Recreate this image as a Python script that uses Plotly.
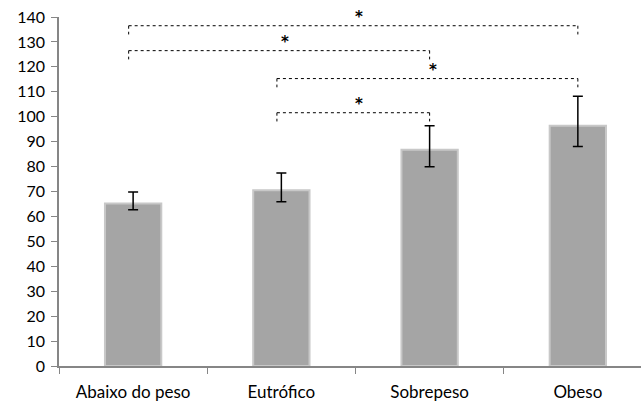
import plotly.graph_objects as go

categories = ["Abaixo do peso", "Eutrófico", "Sobrepeso", "Obeso"]
values = [65.2, 70.5, 86.7, 96.4]
err_plus = [4.6, 6.9, 9.7, 11.8]
err_minus = [2.5, 4.6, 6.8, 8.3]

# significance brackets: (left category index, right category index, height)
bracket_left = [0, 0, 1, 1]
bracket_right = [3, 2, 3, 2]
bracket_height = [136.5, 126.5, 115.3, 101.6]
bracket_label = ["*", "*", "*", "*"]

y_ticks = list(range(0, 141, 10))

FONT = "Lato"
Y_MAX = 140

fig = go.Figure()
fig.add_trace(go.Bar(
    x=list(range(len(categories))),
    y=values,
    width=0.38,
    marker=dict(color="#A5A5A5", line=dict(color="#C8C8C8", width=2)),
    error_y=dict(type="data", symmetric=False, array=err_plus, arrayminus=err_minus,
                 color="#000000", thickness=1.5, width=5),
    showlegend=False,
))

shapes = []
annotations = []
drop = 3.5
for l, r, h, lab in zip(bracket_left, bracket_right, bracket_height, bracket_label):
    xl = l - 0.03
    xr = r
    line = dict(color="#000000", width=1, dash="dot")
    shapes.append(dict(type="line", xref="x", yref="y", x0=xl, x1=xr, y0=h, y1=h, line=line))
    shapes.append(dict(type="line", xref="x", yref="y", x0=xl, x1=xl, y0=h, y1=h - drop, line=line))
    shapes.append(dict(type="line", xref="x", yref="y", x0=xr, x1=xr, y0=h, y1=h - drop, line=line))
    annotations.append(dict(x=(xl + xr) / 2 + 0.04, y=(h - 0.8) / Y_MAX, xref="x", yref="paper",
                            text="<b>" + lab + "</b>",
                            showarrow=False, font=dict(family="DejaVu Sans", size=15, color="#000000"),
                            xanchor="center", yanchor="bottom"))

fig.update_layout(
    width=641, height=401,
    margin=dict(l=59, r=0, t=17, b=35),
    paper_bgcolor="white", plot_bgcolor="white",
    font=dict(family=FONT, size=16, color="#000000"),
    shapes=shapes, annotations=annotations,
)
fig.update_xaxes(
    range=[-0.5, 3.426],
    tickmode="array", tickvals=list(range(len(categories))), ticktext=categories,
    tickfont=dict(size=17),
    showline=True, linecolor="#868686", linewidth=1.5,
    ticks="", showgrid=False, zeroline=False,
    ticklabelstandoff=10,
)
fig.update_xaxes(minor=dict(tickmode="array", tickvals=[-0.5, 0.5, 1.5, 2.5, 3.5],
                            ticks="outside", ticklen=6, tickcolor="#868686", tickwidth=1, showgrid=False))
fig.update_yaxes(
    range=[0, Y_MAX], tickmode="array", tickvals=y_ticks,
    showline=True, linecolor="#868686", linewidth=1.5,
    ticks="outside", ticklen=6, tickcolor="#868686", tickwidth=1,
    showgrid=False, zeroline=False,
    ticklabelstandoff=3,
)

fig.write_html("out.html", config={"displayModeBar": False},
               post_script="document.body.style.margin='0';")
